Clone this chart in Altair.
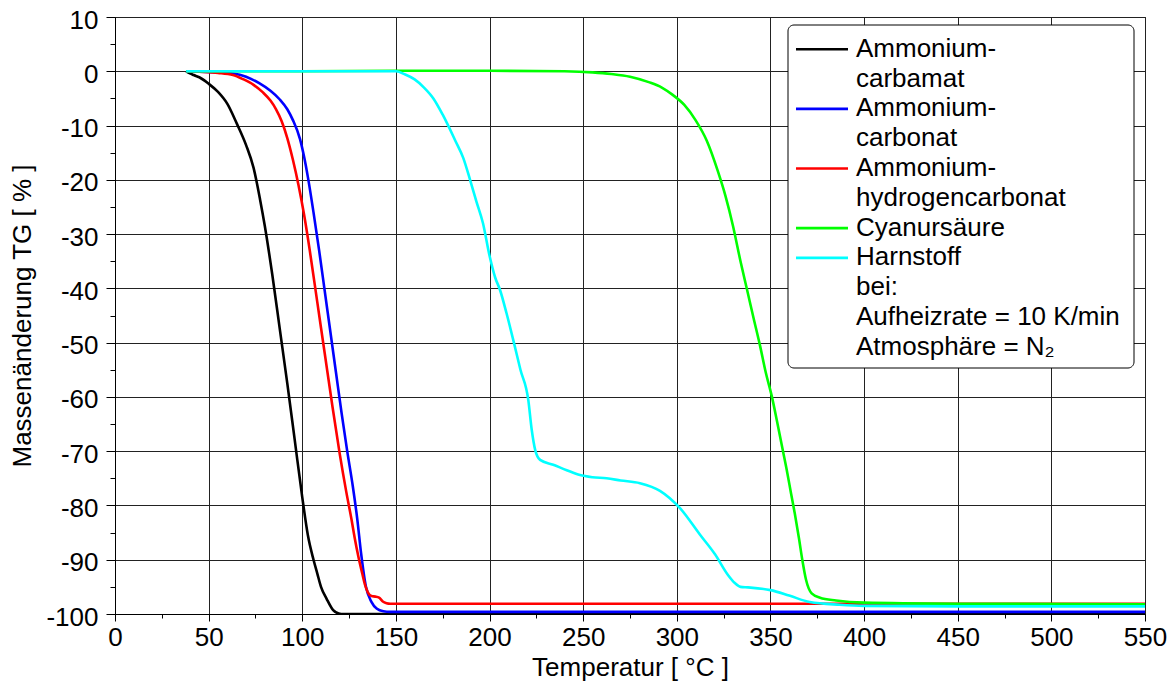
import altair as alt
import pandas as pd

# ---------------- data ----------------
names = ["Ammonium-carbamat", "Ammonium-carbonat", "Ammonium-hydrogencarbonat",
         "Cyanursäure", "Harnstoff"]
colors = ["#000000", "#0000ff", "#ff0000", "#00ff00", "#00ffff"]
legend_labels = ["Ammonium-\ncarbamat", "Ammonium-\ncarbonat", "Ammonium-\nhydrogencarbonat",
                 "Cyanursäure", "Harnstoff"]
extra_lines = ["bei:", "Aufheizrate = 10 K/min", "Atmosphäre = N₂"]

carbamat_T = [38, 40, 42, 45, 50, 55, 60, 65, 70, 74, 77.5, 80, 84, 88, 92, 96, 100, 103, 106,
              108, 110, 113, 116.5, 119.5, 122, 150, 250, 350, 450, 550]
carbamat_m = [0, -0.4, -0.7, -1.1, -2.3, -3.8, -6.0, -9.6, -13.6, -17.8, -23.7, -28.5, -37.5,
              -47.5, -57.5, -68, -78.5, -85.5, -90, -92.5, -95, -97.2, -99.3, -99.9, -100,
              -100, -100, -100, -100, -100]

carbonat_T = [38, 45, 55, 63, 70, 77, 83, 88, 92, 95, 98.8, 101, 103, 106, 109, 112, 115, 118,
              121, 124, 127, 129.4, 131.4, 134, 137, 139.7, 143.3, 147, 200, 300, 400, 550]
carbonat_m = [0, -0.1, -0.2, -0.4, -1.0, -2.2, -3.6, -5.2, -7.0, -9.0, -12.5, -15.8, -19.5,
              -26, -33, -40.5, -48, -55.5, -63, -70, -76.5, -82.6, -88.8, -95, -97.8, -99,
              -99.5, -99.6, -99.6, -99.6, -99.6, -99.6]

hydrogen_T = [38, 45, 55, 63, 68, 74, 79, 83, 86, 89, 92, 95, 98, 101, 104, 108, 112, 116, 120,
              123.5, 126.3, 128, 130, 132, 133.4, 135, 137, 139, 141, 143, 145, 147, 200, 300,
              400, 550]
hydrogen_m = [0, -0.1, -0.3, -0.7, -1.4, -2.5, -3.9, -5.4, -7.0, -9.2, -12.3, -16.3, -21,
              -26.5, -33, -42.5, -52, -61.5, -70.5, -77.5, -82.6, -86, -89.5, -92.5, -94.5,
              -96, -96.7, -96.8, -97, -97.7, -98, -98.1, -98.1, -98.1, -98.1, -98.1]

cyanur_T = [38, 100, 150, 200, 240, 255, 265, 275, 285, 292, 298, 304, 310, 316, 322, 326, 330,
            334, 338, 341, 344.4, 347.5, 350.8, 353.5, 356.7, 359, 361, 363, 365.2, 367, 369,
            372, 376.5, 385, 400, 450, 550]
cyanur_m = [0, 0, 0.1, 0.1, 0, -0.2, -0.5, -1.0, -2.0, -3.0, -4.4, -6.2, -9.0, -12.8, -18.5,
            -23, -28.5, -35, -41, -45.5, -50.5, -55.5, -60, -64.5, -70, -74, -77.8, -81.5, -86,
            -90, -93.7, -96.2, -97, -97.5, -97.9, -98.1, -98.2]

harnstoff_T = [38, 100, 150, 155, 160, 165, 170, 175, 181.6, 186, 189.6, 193, 196.5, 200, 203,
               205.6, 209, 213, 216.5, 220.7, 222.5, 224.4, 227, 234, 241.2, 248.3, 255, 262.5,
               270, 280.3, 291, 301.7, 312.4, 320.4, 327.3, 331, 334, 338, 350, 360, 371, 387,
               400, 450, 550]
harnstoff_m = [0, 0, 0, -0.6, -1.5, -3, -5, -8, -12.7, -16, -20, -24, -28, -34, -38, -40.3,
               -44.5, -50, -55, -60.6, -66, -69.8, -71.6, -72.5, -73.5, -74.4, -74.8, -75,
               -75.4, -75.9, -77.3, -80.5, -85.4, -89, -92.8, -94.3, -95, -95.1, -95.6, -96.6,
               -97.8, -98.3, -98.5, -98.6, -98.6]

x_major = list(range(0, 551, 50))
x_minor = list(range(25, 550, 50))
y_major = list(range(-100, 11, 10))
y_minor = list(range(-95, 10, 10))

series_T = [carbamat_T, carbonat_T, hydrogen_T, cyanur_T, harnstoff_T]
series_m = [carbamat_m, carbonat_m, hydrogen_m, cyanur_m, harnstoff_m]

# ---------------- tables ----------------
frames = []
for k, (name, T, m) in enumerate(zip(names, series_T, series_m)):
    frames.append(pd.DataFrame({"name": name, "T": T, "m": m, "k": k}))
df = pd.concat(frames, ignore_index=True)

text_rows, sym_rows = [], []
r = 0
for name, col, lab in zip(names, colors, legend_labels):
    sym_rows.append({"name": name, "row": r, "color": col})
    for line in lab.split("\n"):
        text_rows.append({"text": line, "row": r})
        r += 1
for line in extra_lines:
    text_rows.append({"text": line, "row": r})
    r += 1
leg_text = pd.DataFrame(text_rows)
leg_sym = pd.DataFrame(sym_rows)

FONT = "Liberation Sans"
FS = 26
W, H = 1030, 597

xscale = alt.Scale(domain=[0, 550], nice=False, zero=False)
yscale = alt.Scale(domain=[-100, 10], nice=False, zero=False)
cscale = alt.Scale(domain=names, range=colors)

# ---------------- main curves ----------------
line_layers = []
for k, name in enumerate(names):
    ch = alt.Chart(df).transform_filter(alt.datum.k == k).mark_line(
        strokeWidth=2.6, interpolate="monotone", clip=True
    ).encode(
        x=alt.X("T:Q", scale=xscale,
                axis=alt.Axis(values=x_major, orient="bottom", title="Temperatur [ °C ]",
                              grid=True, gridColor="#222", gridWidth=1, tickSize=7,
                              tickColor="black", domainColor="black", labelFlush=False,
                              labelOverlap=False, labelFontSize=FS, labelColor="black",
                              labelPadding=3, titleFontSize=FS, titleFontWeight="normal",
                              titleColor="black", titleBaseline="alphabetic", titleY=61,
                              labelExpr="toString(datum.value)")
                if k == 0 else None),
        y=alt.Y("m:Q", scale=yscale,
                axis=alt.Axis(values=y_major, orient="left", title="Massenänderung TG [ % ]",
                              grid=True, gridColor="#222", gridWidth=1, tickSize=9,
                              tickColor="black", domainColor="black", labelFlush=False,
                              labelOverlap=False, labelFontSize=FS, labelColor="black",
                              labelPadding=8, labelOffset=3, titleFontSize=FS,
                              titleFontWeight="normal", titleColor="black",
                              titleBaseline="alphabetic", titleX=-85,
                              labelExpr="toString(datum.value)")
                if k == 0 else None),
        color=alt.Color("name:N", scale=cscale, legend=None),
    )
    line_layers.append(ch)

minor = alt.Chart(df).mark_point(opacity=0).encode(
    x=alt.X("T:Q", scale=xscale,
            axis=alt.Axis(values=x_minor, orient="bottom", title=None, labels=False,
                          grid=False, domain=False, tickSize=4, tickColor="black")),
    y=alt.Y("m:Q", scale=yscale,
            axis=alt.Axis(values=y_minor, orient="left", title=None, labels=False,
                          grid=False, domain=False, tickSize=5, tickColor="black")),
)

main = alt.layer(*line_layers, minor).resolve_axis(x="independent", y="independent")

# ---------------- legend ----------------
leg_scale = alt.Scale(domain=[0, 10], range=[39.7, 337.7])

box = alt.Chart(pd.DataFrame({"a": [0]})).mark_rect(
    fill="white", stroke="black", strokeWidth=1, cornerRadius=6
).encode(x=alt.value(673), x2=alt.value(1019), y=alt.value(8), y2=alt.value(351))

syms = alt.Chart(leg_sym).mark_rule(strokeWidth=2.6, yOffset=-7.4).encode(
    x=alt.value(681), x2=alt.value(733),
    y=alt.Y("row:Q", scale=leg_scale, axis=None),
    color=alt.Color("name:N", scale=cscale, legend=None),
)

texts = alt.Chart(leg_text).mark_text(
    align="left", baseline="alphabetic", fontSize=FS, font=FONT, color="black"
).encode(
    x=alt.value(741),
    y=alt.Y("row:Q", scale=leg_scale, axis=None),
    text="text:N",
)

legend = alt.layer(box, syms, texts)

chart = alt.layer(main, legend).resolve_scale(y="independent").properties(
    width=W, height=H,
    autosize=alt.AutoSizeParams(type="none"),
    padding={"left": 107, "top": 9, "right": 23, "bottom": 67},
).configure(font=FONT).configure_view(stroke="black", strokeWidth=1)

chart.save("out.html", embed_options={"renderer": "svg", "actions": False})
